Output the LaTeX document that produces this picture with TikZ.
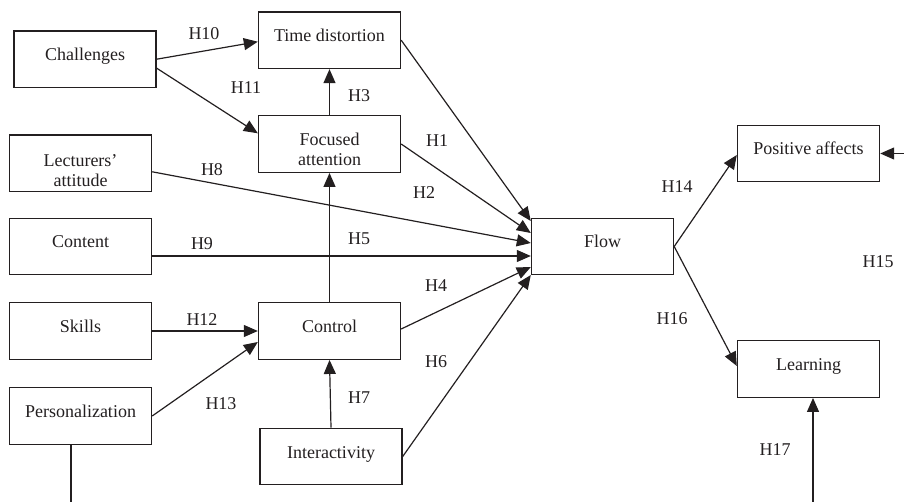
\documentclass[tikz,border=0pt]{standalone}
\usepackage{fontspec}
\setmainfont{Liberation Serif}
\usetikzlibrary{arrows.meta,calc}
\definecolor{ink}{HTML}{231F20}
\newcommand\boxone[1]{\raisebox{-1.5pt}[0pt][0pt]{#1}}
\newcommand\boxtwo[3]{\raisebox{#1}[0pt][0pt]{\begin{tabular}[b]{@{}c@{}}#2\\#3\end{tabular}}}
\begin{document}
\begin{tikzpicture}[x=1pt,y=-1pt,
  box/.style={draw=ink,line width=1.4pt,minimum width=142pt,minimum height=56.5pt,inner sep=0pt,text=ink,font=\fontsize{18}{20}\selectfont},
  hlab/.style={text=ink,font=\fontsize{18}{20}\selectfont,inner sep=0pt},
  arr/.style={draw=ink,line width=1.2pt,-{Triangle[length=14pt,width=12pt]}},
  ln/.style={draw=ink,line width=1.2pt}]
\useasboundingbox (0,0) rectangle (904,502);
% boxes
\node[box] (chal)    at (85,59.2)    {\boxone{Challenges}};
\node[box] (time)    at (329.5,40.2) {\boxone{Time distortion}};
\node[box] (focus)   at (329.5,144)  {\boxtwo{-22pt}{Focused}{attention}};
\node[box] (lect)    at (80.5,163.3) {\boxtwo{-23pt}{Lecturers’}{attitude}};
\node[box] (content) at (80.5,246.5) {\boxone{Content}};
\node[box] (skills)  at (80.5,331)   {\boxone{Skills}};
\node[box] (pers)    at (80.5,416)   {\boxone{Personalization}};
\node[box] (control) at (329.5,331)  {\boxone{Control}};
\node[box] (inter)   at (331,456.5)  {\boxone{Interactivity}};
\node[box] (flow)    at (602.5,246.5){\boxone{Flow}};
\node[box] (pos)     at (808.5,153.5){\boxone{Positive affects}};
\node[box] (learn)   at (808.5,369)  {\boxone{Learning}};
% free ends
\coordinate (persend) at (71,502);
\coordinate (learnstart) at (813,502);
\coordinate (posstart) at (904,153.5);
% connectors
\draw[arr] (chal.east) -- ($(time.west)+(0,1.5)$);
\draw[arr] ($(chal.east)+(0,9)$) -- ($(focus.west)+(0,-10.7)$);
\draw[arr] (focus.north) -- (time.south);
\draw[arr] (control.north) -- (focus.south);
\draw[arr] (inter.north) -- (control.south);
\draw[arr] (skills.east) -- (control.west);
\draw[arr] (pers.east) -- ($(control.west)+(0,11)$);
\draw[arr] ($(lect.east)+(0,8.5)$) -- ($(flow.west)+(0,-3.5)$);
\draw[arr] ($(content.east)+(0,9.5)$) -- ($(flow.west)+(0,9.5)$);
\draw[arr] (time.east) -- ($(flow.west)+(0,-25.5)$);
\draw[arr] (focus.east) -- ($(flow.west)+(0,-13.5)$);
\draw[arr] ($(control.east)+(0,-2)$) -- ($(flow.west)+(0,20.5)$);
\draw[arr] (inter.east) -- ($(flow.west)+(0,28.5)$);
\draw[arr] (flow.east) -- ($(pos.west)+(0,1.5)$);
\draw[arr] (flow.east) -- ($(learn.west)+(0,-3)$);
\draw[ln] ($(pers.south)+(-9.5,0)$) -- (persend);
\draw[arr] (learnstart) -- ($(learn.south)+(4.5,0)$);
\draw[arr] (posstart) -- (pos.east);
% labels
\node[hlab] (h10) at (204,34)  {H10};
\node[hlab] (h11) at (246,88)  {H11};
\node[hlab] (h3)  at (359,96)  {H3};
\node[hlab] (h1)  at (437,141) {H1};
\node[hlab] (h2)  at (424,193) {H2};
\node[hlab] (h8)  at (212,170) {H8};
\node[hlab] (h9)  at (202,244) {H9};
\node[hlab] (h5)  at (359,239) {H5};
\node[hlab] (h4)  at (436,286) {H4};
\node[hlab] (h6)  at (436,362) {H6};
\node[hlab] (h12) at (202,320) {H12};
\node[hlab] (h13) at (221,404) {H13};
\node[hlab] (h7)  at (359,398) {H7};
\node[hlab] (h14) at (677,187) {H14};
\node[hlab] (h16) at (672,319) {H16};
\node[hlab] (h15) at (878,262) {H15};
\node[hlab] (h17) at (775,450) {H17};
\end{tikzpicture}
\end{document}
